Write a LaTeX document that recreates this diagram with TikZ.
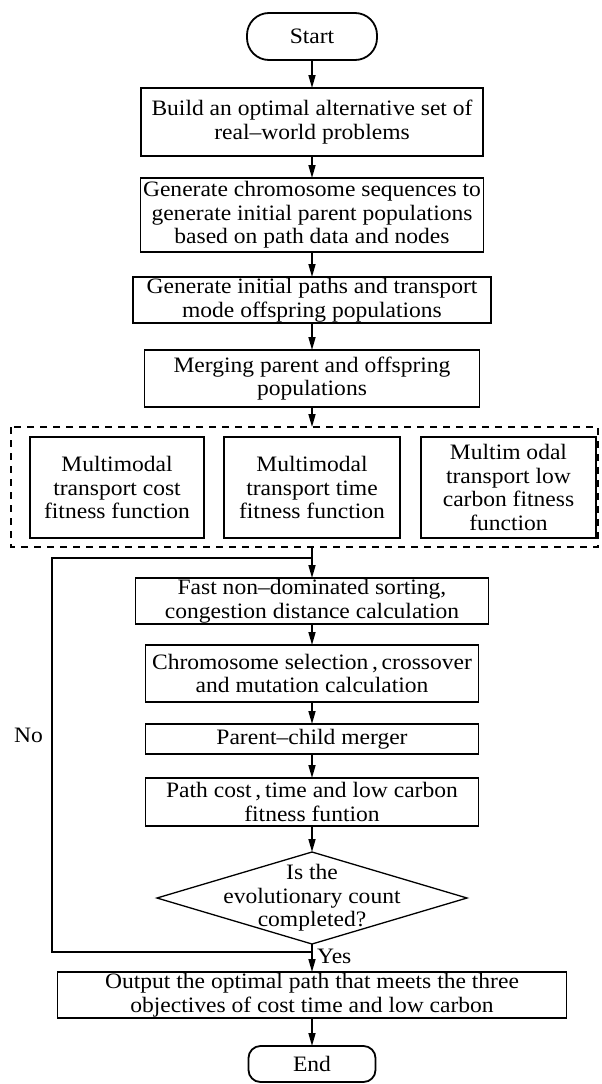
\documentclass[tikz,border=0pt]{standalone}
\usepackage{fontspec}
\setmainfont[FakeStretch=1.07]{Liberation Serif}
\usetikzlibrary{arrows.meta,positioning,shapes.geometric,calc}

\begin{document}
\begin{tikzpicture}[x=1pt, y=1pt, >={Triangle[length=13pt,width=7pt]},
    every node/.style={font=\fontsize{22pt}{23.5pt}\selectfont},
    box/.style={draw, line width=1.8pt, align=center, inner xsep=2pt, inner ysep=1pt,
                outer sep=0pt},
    term/.style={box, minimum width=130pt, minimum height=47pt, rounded corners=22pt},
    dec/.style={draw, diamond, line width=1.3pt, inner sep=0pt, outer sep=0pt,
                minimum width=310pt, minimum height=92pt},
    flow/.style={line width=1.6pt}]
  \useasboundingbox (0,0) rectangle (602,-1084);
  \node[term] (start) at (312,-36.5) {Start};
  \node[box, minimum width=342pt, minimum height=68pt, below=28pt of start] (alt)
    {Build an optimal alternative set of\\real--world problems};
  \node[box, minimum width=343pt, minimum height=74pt, below=22pt of alt] (chrom)
    {Generate chromosome sequences to\\generate initial parent populations\\based on path data and nodes};
  \node[box, minimum width=358pt, minimum height=46pt, below=25pt of chrom] (init)
    {Generate initial paths and transport\\mode offspring populations};
  \node[box, minimum width=335pt, minimum height=57pt, below=27pt of init] (merge)
    {Merging parent and offspring\\populations};
  % three fitness functions
  \node[box, minimum width=176pt, minimum height=101pt, below=30pt of merge] (time)
    {Multimodal\\transport time\\fitness function};
  \node[box, minimum width=174pt, minimum height=101pt, left=20pt of time] (cost)
    {Multimodal\\transport cost\\fitness function};
  \node[box, minimum width=175pt, minimum height=101pt, right=21pt of time] (carbon)
    {Multim odal\\transport low\\carbon fitness\\function};
  \coordinate (grpnw) at ($(cost.north west)+(-19,10)$);
  \coordinate (grpse) at ($(carbon.south east)+(2,-9)$);
  \draw[line width=1.5pt, dash pattern=on 7pt off 6pt] (grpnw) rectangle (grpse);
  \coordinate (grpbot) at (merge.south |- grpse);
  % evolution loop
  \node[box, minimum width=353pt, minimum height=46pt, below=31pt of grpbot] (sort)
    {Fast non--dominated sorting,\\congestion distance calculation};
  \node[box, minimum width=333pt, minimum height=57pt, below=21pt of sort] (select)
    {Chromosome selection\,,\,crossover\\and mutation calculation};
  \node[box, minimum width=333pt, minimum height=30pt, below=22pt of select] (pcmerge)
    {Parent--child merger};
  \node[box, minimum width=333pt, minimum height=48pt, below=24pt of pcmerge] (fitness)
    {Path cost\,,\,time and low carbon\\fitness funtion};
  \node[dec, below=26pt of fitness,
        label={[align=center]center:{Is the\\evolutionary count\\completed?}}] (count) {};
  \node[box, minimum width=509pt, minimum height=46pt, below=28pt of count] (output)
    {Output the optimal path that meets the three\\objectives of cost time and low carbon};
  \node[term, minimum width=127pt, minimum height=36pt, rounded corners=12pt,
        below=28pt of output] (end) {End};
  \draw[flow, ->] (start) -- (alt);
  \draw[flow, ->] (alt) -- (chrom);
  \draw[flow, ->] (chrom) -- (init);
  \draw[flow, ->] (init) -- (merge);
  \draw[flow, ->] (merge) -- (merge.south |- grpnw);
  \draw[flow, ->] (grpbot) -- (sort);
  \draw[flow, ->] (sort) -- (select);
  \draw[flow, ->] (select) -- (pcmerge);
  \draw[flow, ->] (pcmerge) -- (fitness);
  \draw[flow, ->] (fitness) -- (count);
  \draw[flow, ->] (count) -- node[right=1pt, pos=0.46] {Yes} (output);
  \draw[flow, ->] (output) -- (end);
  \coordinate (loopout) at ($(count.south)+(0,-8)$);
  \coordinate (loopin) at ($(grpbot)+(0,-11)$);
  \coordinate (lft) at (52,0);
  \draw[flow] (loopout) -- (loopout -| lft) -- node[left=5pt, pos=0.55] {No} (loopin -| lft)
    -- (loopin);
\end{tikzpicture}
\end{document}
